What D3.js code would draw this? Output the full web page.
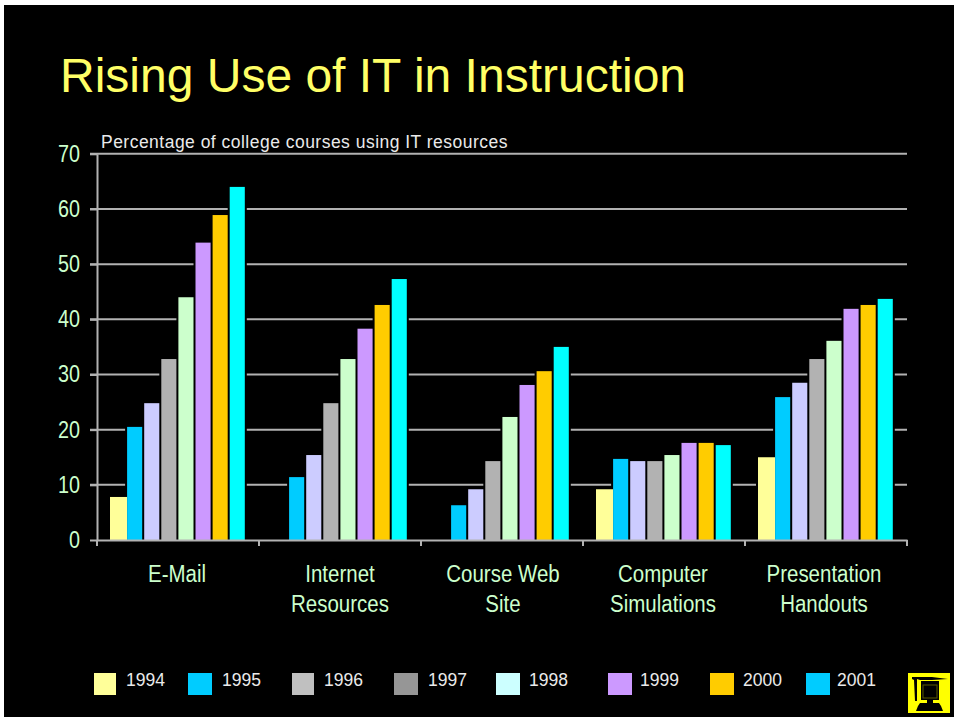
<!DOCTYPE html>
<html>
<head>
<meta charset="utf-8">
<script src="https://cdn.jsdelivr.net/npm/d3@7"></script>
<style>
html, body { margin: 0; padding: 0; background: #fff; }
svg { display: block; }
text { font-family: "Liberation Sans", Arial, sans-serif; }
</style>
</head>
<body>
<div id="chart"></div>
<script>
var categories = [['E-Mail'], ['Internet', 'Resources'], ['Course Web', 'Site'], ['Computer', 'Simulations'], ['Presentation', 'Handouts']];
var years = ['1994', '1995', '1996', '1997', '1998', '1999', '2000', '2001'];

var v1994 = [7.8, null, null, 9.2, 15];
var v1995 = [20.5, 11.4, 6.3, 14.7, 25.9];
var v1996 = [24.8, 15.4, 9.2, 14.3, 28.5];
var v1997 = [32.8, 24.8, 14.3, 14.3, 32.8];
var v1998 = [44, 32.8, 22.3, 15.4, 36.1];
var v1999 = [53.9, 38.3, 28.1, 17.6, 41.9];
var v2000 = [58.9, 42.6, 30.6, 17.6, 42.6];
var v2001 = [64, 47.3, 35, 17.2, 43.7];
var allValues = [v1994, v1995, v1996, v1997, v1998, v1999, v2000, v2001];

var yTicks = [0, 10, 20, 30, 40, 50, 60, 70];
var barColors = ['#FFFF99', '#00CCFF', '#CCCCFF', '#B2B2B2', '#CCFFCC', '#CC99FF', '#FFCC00', '#00FFFF'];
var legendColors = ['#FFFF99', '#00CCFF', '#C0C0C0', '#969696', '#CCFFFF', '#CC99FF', '#FFCC00', '#00CCFF'];

var svg = d3.select('#chart').append('svg')
    .attr('width', 954)
    .attr('height', 719)

svg.append('rect')
    .attr('x', 4)
    .attr('y', 5)
    .attr('width', 950)
    .attr('height', 712)
    .attr('fill', '#000')

svg.append('text')
    .attr('x', 60)
    .attr('y', 92)
    .attr('font-size', 48)
    .attr('fill', '#FFFF66')
    .text('Rising Use of IT in Instruction')

var x0 = d3.scaleBand().domain(d3.range(categories.length)).range([97, 907])
var x1 = d3.scaleBand().domain(years).range([13, 13 + 17.1 * 8])
var y = d3.scaleLinear().domain([0, 70]).range([540, 153.8])

// gridlines first, bars knock them out with a black halo
svg.append('g').selectAll('line')
    .data(yTicks.slice(1))
    .enter().append('line')
    .attr('x1', 90)
    .attr('x2', 907)
    .attr('y1', function (d) { return y(d) })
    .attr('y2', function (d) { return y(d) })
    .attr('stroke', '#B2B2B2')
    .attr('stroke-width', 2)

var bars = [];
years.forEach(function (yr, s) {
    allValues[s].forEach(function (v, c) {
        if (v != null) bars.push({ year: yr, s: s, c: c, v: v });
    })
})

var barW = 15.1;

svg.append('g').selectAll('rect')
    .data(bars)
    .enter().append('rect')
    .attr('x', function (d) { return x0(d.c) + x1(d.year) - 2 })
    .attr('y', function (d) { return y(d.v) - 2 })
    .attr('width', barW + 4)
    .attr('height', function (d) { return y(0) - y(d.v) + 2 })
    .attr('fill', '#000')

svg.append('g').selectAll('rect')
    .data(bars)
    .enter().append('rect')
    .attr('x', function (d) { return x0(d.c) + x1(d.year) })
    .attr('y', function (d) { return y(d.v) })
    .attr('width', function (d) { return d.s === 0 ? barW + 2 : barW })
    .attr('height', function (d) { return y(0) - y(d.v) })
    .attr('fill', function (d) { return barColors[d.s] })

// axes
var xAxis = svg.append('g').attr('transform', 'translate(0,' + y(0) + ')')
    .call(d3.axisBottom(x0).tickValues([]).tickSize(0))
xAxis.select('.domain').attr('stroke', '#B2B2B2').attr('stroke-width', 2)
xAxis.selectAll('.sep')
    .data(d3.range(categories.length + 1))
    .enter().append('line')
    .attr('class', 'sep')
    .attr('x1', function (d) { return 97 + d * x0.step() })
    .attr('x2', function (d) { return 97 + d * x0.step() })
    .attr('y1', 0)
    .attr('y2', 6)
    .attr('stroke', '#B2B2B2')
    .attr('stroke-width', 2)

var yAxis = svg.append('g').attr('transform', 'translate(97,0)')
    .call(d3.axisLeft(y).tickValues(yTicks).tickSize(7).tickSizeOuter(0))
yAxis.select('.domain').attr('stroke', '#B2B2B2').attr('stroke-width', 2)
yAxis.selectAll('line').attr('stroke', '#B2B2B2').attr('stroke-width', 2)
// the labels in the picture are a squeezed Arial
yAxis.selectAll('text')
    .attr('x', 0)
    .attr('transform', 'translate(-17,0) scale(0.86,1)')
    .attr('font-size', 23)
    .attr('fill', '#CCFFCC')

// category labels
var labelOffset = [80, 81, 82, 80, 79];
var catLabels = svg.append('g').selectAll('g')
    .data(categories)
    .enter().append('g')
    .attr('transform', function (d, i) { return 'translate(' + (x0(i) + labelOffset[i]) + ',0) scale(0.89,1)' })

catLabels.selectAll('text')
    .data(function (d) { return d })
    .enter().append('text')
    .attr('text-anchor', 'middle')
    .attr('y', function (d, k) { return 582 + k * 30 })
    .attr('font-size', 23)
    .attr('fill', '#CCFFCC')
    .text(function (d) { return d })

svg.append('text')
    .attr('x', 101)
    .attr('y', 148)
    .attr('font-size', 17.5)
    .attr('letter-spacing', 0.48)
    .attr('fill', '#EAEAEA')
    .text('Percentage of college courses using IT resources')

// legend
var legendX = [94, 188, 292, 394, 496, 608, 710, 806];
var legendW = [22, 24, 22, 24, 24, 24, 24, 24];
var legendText = [126, 222, 324, 428, 529, 640, 743, 837];
var legend = svg.append('g').selectAll('g')
    .data(years)
    .enter().append('g')

legend.append('rect')
    .attr('x', function (d, i) { return legendX[i] })
    .attr('y', 673)
    .attr('width', function (d, i) { return legendW[i] })
    .attr('height', 22)
    .attr('fill', function (d, i) { return legendColors[i] })

legend.append('text')
    .attr('x', function (d, i) { return legendText[i] })
    .attr('y', 686)
    .attr('font-size', 17.5)
    .attr('fill', '#EAEAEA')
    .text(function (d) { return d })

// logo in the corner
var logo = svg.append('g').attr('transform', 'translate(908,673)')
logo.append('rect').attr('width', 42).attr('height', 40).attr('fill', '#FFFF00')
logo.append('path')
    .attr('d', 'M4 4 L24 4 L40 6 L24 7 L12 7 L9 6 L9 28 L7 28 L6 7 L4 6 Z')
    .attr('fill', '#000')
logo.append('rect')
    .attr('x', 13).attr('y', 8).attr('width', 18).attr('height', 19)
    .attr('fill', '#000')
logo.append('rect')
    .attr('x', 15).attr('y', 12).attr('width', 14).attr('height', 13)
    .attr('fill', '#000').attr('stroke', '#5a5a00')
logo.append('path')
    .attr('d', 'M19 27 L25 27 L25 30 L31 30 L33 33 L35 38 L8 38 L10 33 L12 30 L19 30 Z')
    .attr('fill', '#000')
</script>
</body>
</html>
